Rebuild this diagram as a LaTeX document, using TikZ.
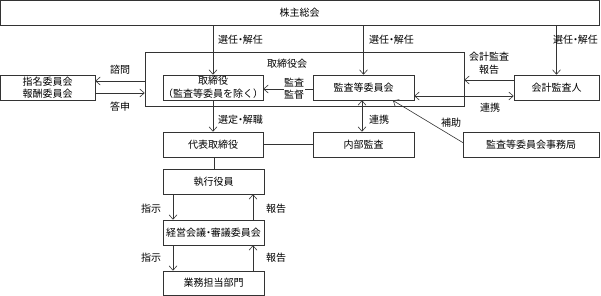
\documentclass[tikz,border=0pt]{standalone}
\usepackage{fontspec}
\setmainfont{Noto Sans CJK JP}
\usetikzlibrary{arrows.meta}
\newcommand{\nakaguro}{\kern-0.27em・\kern-0.27em}
\tikzset{
  box/.style={draw=black!80, line width=0.6pt, inner sep=0pt, align=center, font=\fontsize{10}{12.5}\selectfont},
  lab/.style={inner sep=0pt, align=center, font=\fontsize{10}{12.5}\selectfont},
  conn/.style={draw=black!80, line width=0.6pt},
  arr/.style={conn, -{Straight Barb[length=4.5pt,width=8pt]}},
  darr/.style={conn, {Straight Barb[length=4.5pt,width=8pt]}-{Straight Barb[length=4.5pt,width=8pt]}},
}
\begin{document}
\begin{tikzpicture}[x=1pt,y=-1pt]
\useasboundingbox (0,0) rectangle (601,296);
% boxes
\node[box, minimum width=599pt, minimum height=25pt] (top) at (299.5,12.5) {株主総会};
\node[draw=black!80, line width=0.6pt, minimum width=319pt, minimum height=54pt, inner sep=0pt] (board) at (304.5,79) {};
\node[lab] (boardlab) at (287,64) {取締役会};
\node[box, minimum width=100pt, minimum height=25pt] (tori) at (213,87.5) {取締役\\（監査等委員を除く）};
\node[box, minimum width=95pt, minimum height=25pt] (shimei) at (47.5,87.5) {指名委員会\\報酬委員会};
\node[box, minimum width=101pt, minimum height=25pt] (kansa) at (363.5,87.5) {監査等委員会};
\node[box, minimum width=85pt, minimum height=25pt] (kaikei) at (556.5,87.5) {会計監査人};
\node[box, minimum width=100pt, minimum height=25pt] (daihyo) at (213,144.5) {代表取締役};
\node[box, minimum width=101pt, minimum height=25pt] (naibu) at (363.5,144.5) {内部監査};
\node[box, minimum width=136pt, minimum height=25pt] (jimu) at (531,144.5) {監査等委員会事務局};
\node[box, minimum width=101pt, minimum height=25pt] (shikko) at (213.5,181.5) {執行役員};
\node[box, minimum width=101pt, minimum height=25pt] (keiei) at (213.5,232.5) {経営会議\nakaguro 審議委員会};
\node[box, minimum width=101pt, minimum height=24pt] (gyomu) at (213.5,283) {業務担当部門};
% connectors
\draw[arr] (top.south -| tori.north) -- (tori.north);
\node[lab, anchor=west] (l1) at (218,40) {選任\nakaguro 解任};
\draw[arr] (top.south -| kansa.north) -- (kansa.north);
\node[lab, anchor=west] (l2) at (369,40) {選任\nakaguro 解任};
\draw[arr] (top.south -| kaikei.north) -- (kaikei.north);
\node[lab, anchor=west] (l3) at (553,40) {選任\nakaguro 解任};
\draw[arr] (board.west |- 0,81) -- (shimei.east |- 0,81);
\node[lab] (l4) at (120,70) {諮問};
\draw[arr] (shimei.east |- 0,93) -- (board.west |- 0,93);
\node[lab] (l5) at (120,107) {答申};
\draw[arr] (kansa.west |- 0,89) -- (tori.east |- 0,89);
\node[lab, fill=white, inner sep=0.5pt] (l6) at (294,88.5) {監査\\監督};
\draw[arr] (kaikei.west |- 0,80) -- (board.east |- 0,80);
\node[lab] (l7) at (489,63) {会計監査\\報告};
\draw[darr] (kansa.east |- 0,96) -- (kaikei.west |- 0,96);
\node[lab] (l8) at (490,108) {連携};
\draw[darr] (kansa.south -| 362,0) -- (naibu.north -| 362,0);
\node[lab, anchor=west] (l9) at (369,119.5) {連携};
\draw[arr] (tori.south) -- (daihyo.north);
\node[lab, anchor=west] (l10) at (218,120) {選定\nakaguro 解職};
\draw[conn] (daihyo.east |- 0,144) -- (naibu.west |- 0,144);
\coordinate (jimuin) at (463.5,143);
\coordinate (kansain) at (393,100.5);
\draw[arr] (jimuin) -- (kansain);
\node[lab] (l11) at (451,123) {補助};
\draw[conn] (daihyo.south -| 214,0) -- (shikko.north -| 214,0);
\draw[arr] (shikko.south -| 173,0) -- (keiei.north -| 173,0);
\draw[arr] (keiei.north -| 253,0) -- (shikko.south -| 253,0);
\draw[arr] (keiei.south -| 173,0) -- (gyomu.north -| 173,0);
\draw[arr] (gyomu.north -| 253,0) -- (keiei.south -| 253,0);
\node[lab] (l12) at (151,209) {指示};
\node[lab] (l13) at (276,209) {報告};
\node[lab] (l14) at (151,258) {指示};
\node[lab] (l15) at (276,258) {報告};
\end{tikzpicture}
\end{document}
